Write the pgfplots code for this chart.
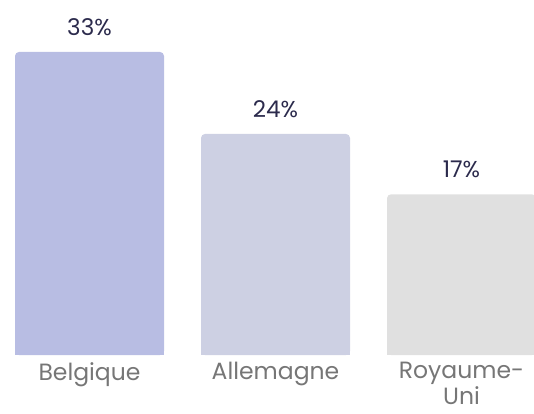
\documentclass[border=0pt]{standalone}
\usepackage{fontspec}
\setmainfont{Poppins}
\usepackage{pgfplots}
\pgfplotsset{compat=1.18}
\definecolor{cBE}{HTML}{B8BDE3}
\definecolor{cDE}{HTML}{CDD0E3}
\definecolor{cUK}{HTML}{E0E0E0}
\definecolor{lbl}{HTML}{2B2A4C}
\definecolor{tick}{HTML}{767676}
\begin{document}
\begin{tikzpicture}
\begin{axis}[
  scale only axis,
  width=534pt, height=355pt,
  xmin=0, xmax=534,
  ymin=0, ymax=38.66,
  ybar, bar width=149pt,
  axis line style={draw=none},
  major tick length=0pt,
  ytick=\empty,
  xtick={89.5,275.5,461.5},
  xticklabels={Belgique,Allemagne,{Royaume-\\Uni}},
  xticklabel style={align=center, text=tick, font=\fontsize{23.5}{26}\selectfont, yshift=-7pt, inner sep=0pt},
  nodes near coords,
  point meta=explicit symbolic,
  every node near coord/.append style={text=lbl, font=\fontsize{23}{26}\selectfont, anchor=south, yshift=12.5pt},
]
\addplot[fill=cBE, draw=none, bar shift=0pt, rounded corners=4pt] coordinates {(89.5,33) [33\%]};
\addplot[fill=cDE, draw=none, bar shift=0pt, rounded corners=4pt] coordinates {(275.5,24.07) [24\%]};
\addplot[fill=cUK, draw=none, bar shift=0pt, rounded corners=4pt] coordinates {(461.5,17.5) [17\%]};
\addplot[fill=cBE, draw=none, bar shift=0pt, nodes near coords={}] coordinates {(89.5,1) [ ]};
\addplot[fill=cDE, draw=none, bar shift=0pt, nodes near coords={}] coordinates {(275.5,1) [ ]};
\addplot[fill=cUK, draw=none, bar shift=0pt, nodes near coords={}] coordinates {(461.5,1) [ ]};
\end{axis}
\pgfresetboundingbox
\path[use as bounding box] (current axis.south west) ++(0,-58pt) rectangle (current axis.north east);
\end{tikzpicture}
\end{document}
